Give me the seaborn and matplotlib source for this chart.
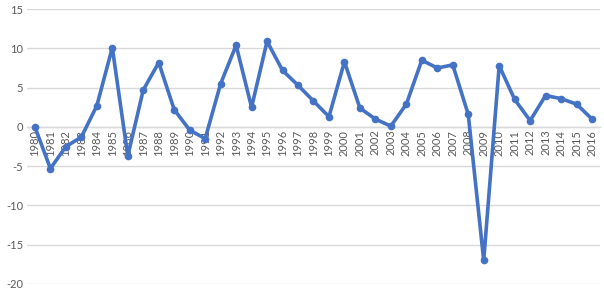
import matplotlib
matplotlib.use("Agg")
import matplotlib.pyplot as plt
import seaborn as sns
import pandas as pd

years = [str(y) for y in range(1980, 2017)]
values = [0.0, -5.3, -2.5, -1.3, 2.7, 10.1, -3.7, 4.7, 8.2, 2.2,
          -0.4, -1.5, 5.5, 10.4, 2.5, 10.9, 7.2, 5.3, 3.3, 1.3,
          8.3, 2.4, 1.0, 0.1, 2.9, 8.5, 7.5, 7.9, 1.6, -17.0,
          7.8, 3.5, 0.8, 4.0, 3.6, 2.9, 1.0]
yticks = [-20, -15, -10, -5, 0, 5, 10, 15]

sns.set_theme(style="white")
plt.rcParams['font.family'] = ['Lato', 'DejaVu Sans']

df = pd.DataFrame({"idx": range(len(years)), "val": values})

fig = plt.figure(figsize=(6.04, 3.05), dpi=100)
ax = fig.add_axes([0.045, 0.069, 0.948, 0.901])

for t in yticks:
    ax.axhline(t, color="#d9d9d9", lw=1.0, zorder=0)

sns.lineplot(data=df, x="idx", y="val", ax=ax, color="#4472C4", lw=2.6,
             marker="o", markersize=5.5, markeredgewidth=0, zorder=3)

for s in ["top", "right", "left"]:
    ax.spines[s].set_visible(False)
ax.spines["bottom"].set_position(("data", 0))
ax.spines["bottom"].set_color("#d9d9d9")
ax.spines["bottom"].set_linewidth(1.0)

ax.set_xlim(-0.5, len(years) - 0.5)
ax.set_ylim(-20, 15)
ax.set_yticks(yticks)
ax.set_yticklabels([str(t) for t in yticks], color="#595959", fontsize=8)
ax.set_xticks(range(len(years)))
ax.set_xticklabels(years, rotation=90, color="#595959", fontsize=8, va="top", ha="center")
ax.tick_params(axis="x", length=0, pad=2)
ax.tick_params(axis="y", length=0, pad=3)
ax.set_xlabel("")
ax.set_ylabel("")

fig.savefig("out.png", dpi=100)
